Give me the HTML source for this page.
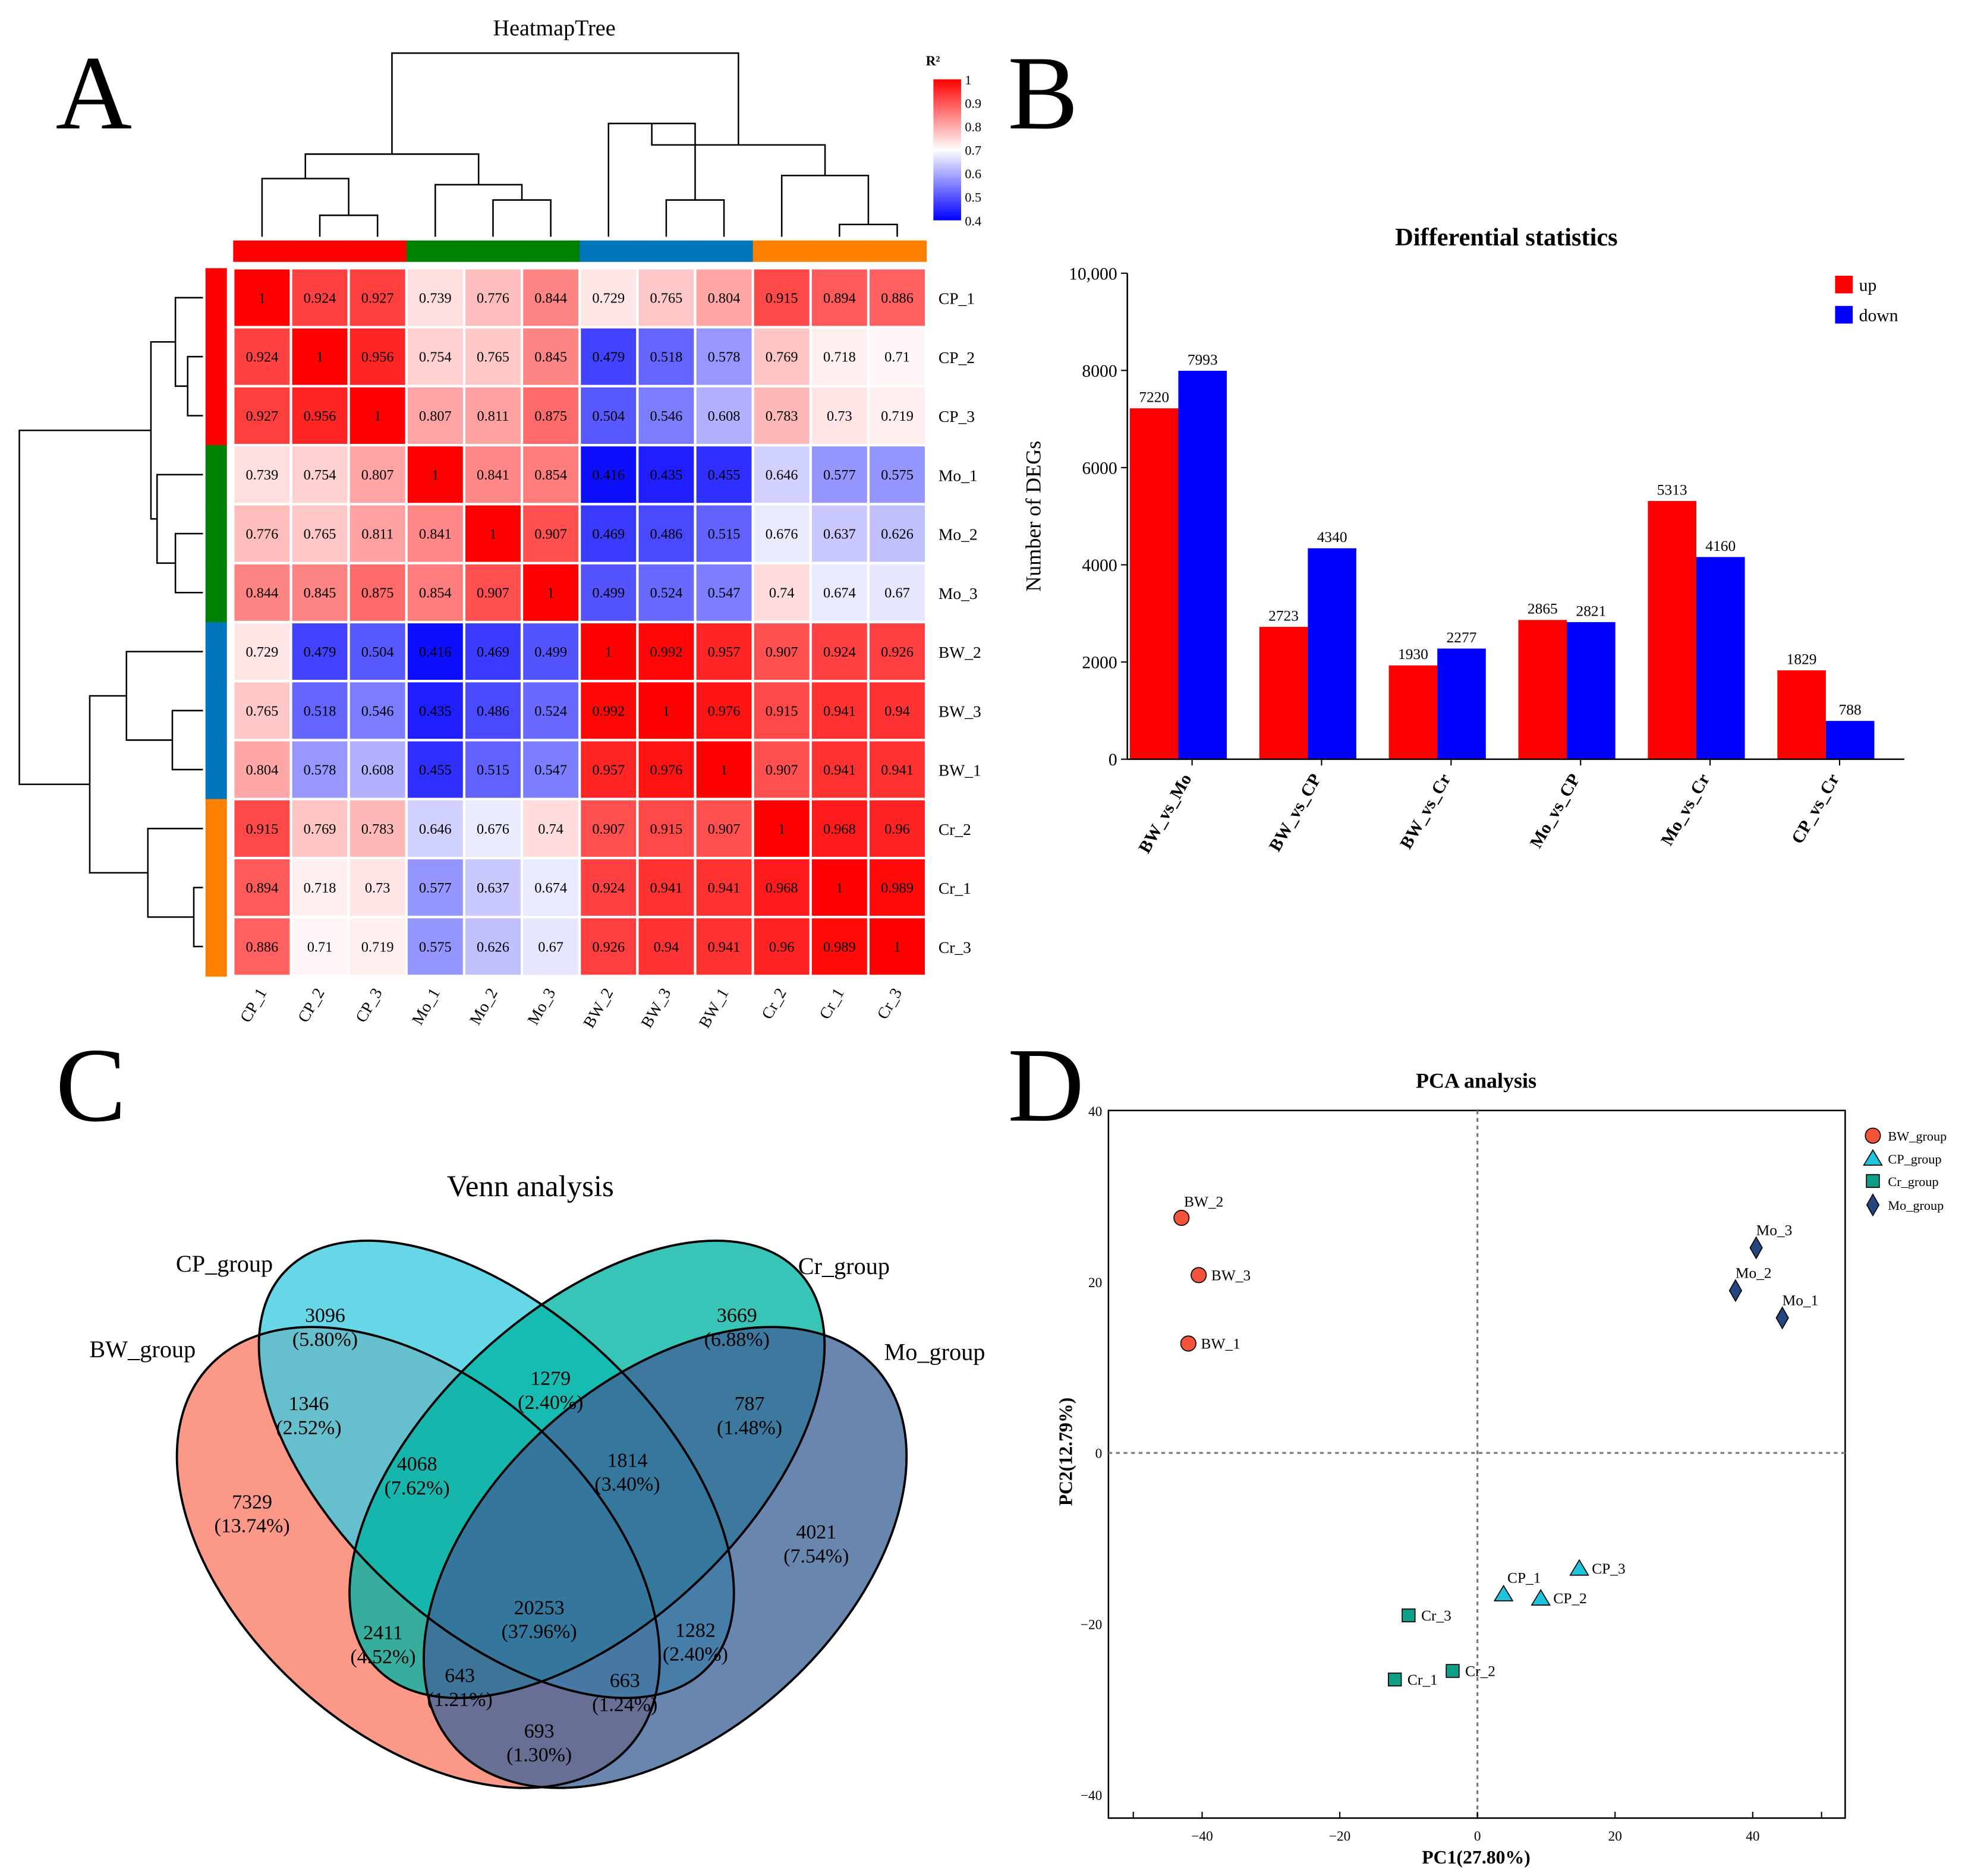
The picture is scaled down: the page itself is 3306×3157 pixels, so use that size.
<!DOCTYPE html>
<html><head><meta charset="utf-8"><style>
html,body{margin:0;padding:0;background:#fff;}
svg{display:block;font-family:"Liberation Serif",serif;}
</style></head><body>
<svg id="fig" width="3306" height="3157" viewBox="0 0 1560 1490" xmlns="http://www.w3.org/2000/svg">
<rect width="1560" height="1490" fill="#fff"/>
<g id="A"></g>
<g id="B"></g>
<g id="C"></g>
<g id="D"></g>
<text x="44" y="102" font-size="84">A</text>
<text x="800" y="102" font-size="84">B</text>
<text x="44" y="890" font-size="84">C</text>
<text x="800" y="890" font-size="84">D</text>
</svg>
<script>
const NS="http://www.w3.org/2000/svg";
function mk(p,tag,attrs,txt){const e=document.createElementNS(NS,tag);for(const k in attrs)e.setAttribute(k,attrs[k]);if(txt!==undefined)e.textContent=txt;p.appendChild(e);return e;}

// ---------- Heatmap data ----------
const hmLabels=["CP_1","CP_2","CP_3","Mo_1","Mo_2","Mo_3","BW_2","BW_3","BW_1","Cr_2","Cr_1","Cr_3"];
const hmGroupColors=["#ff0000","#ff0000","#ff0000","#008000","#008000","#008000","#0077bb","#0077bb","#0077bb","#ff8000","#ff8000","#ff8000"];
const hmValues=[
[1,0.924,0.927,0.739,0.776,0.844,0.729,0.765,0.804,0.915,0.894,0.886],
[0.924,1,0.956,0.754,0.765,0.845,0.479,0.518,0.578,0.769,0.718,0.71],
[0.927,0.956,1,0.807,0.811,0.875,0.504,0.546,0.608,0.783,0.73,0.719],
[0.739,0.754,0.807,1,0.841,0.854,0.416,0.435,0.455,0.646,0.577,0.575],
[0.776,0.765,0.811,0.841,1,0.907,0.469,0.486,0.515,0.676,0.637,0.626],
[0.844,0.845,0.875,0.854,0.907,1,0.499,0.524,0.547,0.74,0.674,0.67],
[0.729,0.479,0.504,0.416,0.469,0.499,1,0.992,0.957,0.907,0.924,0.926],
[0.765,0.518,0.546,0.435,0.486,0.524,0.992,1,0.976,0.915,0.941,0.94],
[0.804,0.578,0.608,0.455,0.515,0.547,0.957,0.976,1,0.907,0.941,0.941],
[0.915,0.769,0.783,0.646,0.676,0.74,0.907,0.915,0.907,1,0.968,0.96],
[0.894,0.718,0.73,0.577,0.637,0.674,0.924,0.941,0.941,0.968,1,0.989],
[0.886,0.71,0.719,0.575,0.626,0.67,0.926,0.94,0.941,0.96,0.989,1]];
const legendTicks=[1,0.9,0.8,0.7,0.6,0.5,0.4];
const topTree=[[[0,[1,2,0.07],0.19],[3,[4,5,0.12],0.17],0.27],[[6,[7,8,0.12],0.37],[9,[10,11,0.04],0.2],0.3],0.6];
const leftTree=[[[0,[1,2,0.05],0.09],[3,[4,5,0.09],0.15],0.17],[[6,[7,8,0.1],0.25],[9,[10,11,0.03],0.18],0.37],0.6];

// ---------- Bar data ----------
const barCats=["BW_vs_Mo","BW_vs_CP","BW_vs_Cr","Mo_vs_CP","Mo_vs_Cr","CP_vs_Cr"];
const upVals=[7220,2723,1930,2865,5313,1829];
const downVals=[7993,4340,2277,2821,4160,788];
const barTicks=[0,2000,4000,6000,8000,10000];
const barTickLabels=["0","2000","4000","6000","8000","10,000"];

// ---------- PCA data ----------
const pcaNames=["BW_2","BW_3","BW_1","Mo_3","Mo_2","Mo_1","CP_1","CP_2","CP_3","Cr_3","Cr_1","Cr_2"];
const pcaGroup=["BW","BW","BW","Mo","Mo","Mo","CP","CP","CP","Cr","Cr","Cr"];
const pcaX=[-43,-40.5,-42,40.5,37.5,44.3,3.8,9.2,14.8,-10,-12,-3.6];
const pcaY=[27.5,20.8,12.8,24,19,15.8,-16.5,-17,-13.5,-19,-26.5,-25.5];
const pcaXTicks=[-40,-20,0,20,40];
const pcaYTicks=[-40,-20,0,20,40];

// ---------- Venn data ----------
const vennCounts=[7329,3096,3669,4021,1346,4068,1279,1814,787,2411,20253,1282,643,663,693];
const vennPcts=["13.74%","5.80%","6.88%","7.54%","2.52%","7.62%","2.40%","3.40%","1.48%","4.52%","37.96%","2.40%","1.21%","1.24%","1.30%"];

// ===== Panel A =====
const A=document.getElementById("A");
const x0=185,cw=45.85,y0=213,ch=46.85;
function hcol(v){let r,g,b;if(v>=0.7){const t=Math.min(1,(v-0.7)/0.3);r=255;g=b=Math.round(255*(1-t));}else{const t=Math.min(1,(0.7-v)/0.3);b=255;r=g=Math.round(255*(1-t));}return `rgb(${r},${g},${b})`;}
let t=mk(A,"text",{x:440,y:28,"font-size":18,"text-anchor":"middle"},"HeatmapTree");

hmValues.forEach((row,i)=>row.forEach((v,j)=>{
 const r=mk(A,"rect",{x:x0+j*cw+1,y:y0+i*ch+1,width:cw-2,height:ch-2,fill:hcol(v)});
 
 const tx=mk(A,"text",{x:x0+j*cw+cw/2,y:y0+i*ch+ch/2+4,"font-size":11.5,"text-anchor":"middle"},String(v));
 
}));
hmLabels.forEach((l,i)=>{
 const a=mk(A,"text",{x:745,y:y0+i*ch+ch/2+5,"font-size":13},l);
 
 const cx=x0+i*cw+cw/2;
 const b=mk(A,"text",{x:cx+4,y:788,"font-size":13,"text-anchor":"end",transform:`rotate(-60 ${cx+4} 788)`},l);
 
 const c=mk(A,"rect",{x:x0+i*cw,y:191,width:cw+0.5,height:17,fill:hmGroupColors[i]});
 
 const d=mk(A,"rect",{x:163,y:y0+i*ch,width:17,height:ch+0.5,fill:hmGroupColors[i]});
 
});
function dendro(tree,pos,hmap,vertical){
 function rec(n){ if(typeof n==="number") return {p:pos(n),h:0};
  const a=rec(n[0]),b=rec(n[1]),h=n[2];
  let d;
  if(vertical){d=`M${a.p},${hmap(a.h)}V${hmap(h)}H${b.p}V${hmap(b.h)}`;}
  else{d=`M${hmap(a.h)},${a.p}H${hmap(h)}V${b.p}H${hmap(b.h)}`;}
  const e=mk(A,"path",{d:d,fill:"none",stroke:"#000","stroke-width":1.2});
  
  return {p:(a.p+b.p)/2,h:h};}
 rec(tree);
}
dendro(topTree,i=>x0+i*cw+cw/2,h=>188-h*243,true);
dendro(leftTree,i=>y0+i*ch+ch/2,h=>161-h*243,false);
const defs=mk(A,"defs",{});
const lg=mk(defs,"linearGradient",{id:"lg",x1:0,y1:0,x2:0,y2:1});
mk(lg,"stop",{offset:"0",  "stop-color":"#ff0000"});
mk(lg,"stop",{offset:"0.5","stop-color":"#ffffff"});
mk(lg,"stop",{offset:"1",  "stop-color":"#0000ff"});
t=mk(A,"rect",{x:741,y:63,width:22,height:112,fill:"url(#lg)"});

t=mk(A,"text",{x:735,y:52,"font-size":11,"font-weight":"bold"},"R²");

legendTicks.forEach(v=>{const y=63+(1-v)/0.6*112;
 t=mk(A,"text",{x:766,y:y+4,"font-size":10.5},String(v));
 });

// ===== Panel B =====
const B=document.getElementById("B");
const bx0=895,bx1=1512,by0=603,by1=217;
const ys=v=>by0-(v/10000)*(by0-by1);
const gw=(bx1-bx0)/barCats.length,bw=38.5;
t=mk(B,"text",{x:1196,y:195,"font-size":20,"font-weight":"bold","text-anchor":"middle"},"Differential statistics");

barCats.forEach((c,i)=>{
 const gx=bx0+i*gw+2;
 let r=mk(B,"rect",{x:gx,y:ys(upVals[i]),width:bw,height:by0-ys(upVals[i]),fill:"#ff0000"});
 
 r=mk(B,"rect",{x:gx+bw,y:ys(downVals[i]),width:bw,height:by0-ys(downVals[i]),fill:"#0000ff"});
 
 t=mk(B,"text",{x:gx+bw/2,y:ys(upVals[i])-5,"font-size":12,"text-anchor":"middle"},String(upVals[i]));
 
 t=mk(B,"text",{x:gx+bw*1.5,y:ys(downVals[i])-5,"font-size":12,"text-anchor":"middle"},String(downVals[i]));
 
 const cx=bx0+i*gw+gw/2;
 t=mk(B,"text",{x:cx,y:618,"font-size":14,"font-weight":"bold","text-anchor":"end",transform:`rotate(-60 ${cx} 618)`},c);
 
 const tk=mk(B,"line",{x1:cx,x2:cx,y1:by0,y2:by0+5,stroke:"#000"});
 
});
t=mk(B,"line",{x1:bx0,x2:bx0,y1:by1,y2:by0,stroke:"#000","stroke-width":1.2});

t=mk(B,"line",{x1:bx0,x2:bx1,y1:by0,y2:by0,stroke:"#000","stroke-width":1.2});

barTicks.forEach((v,i)=>{
 t=mk(B,"line",{x1:bx0-5,x2:bx0,y1:ys(v),y2:ys(v),stroke:"#000"});
 
 t=mk(B,"text",{x:bx0-8,y:ys(v)+5,"font-size":14,"text-anchor":"end"},barTickLabels[i]);
 
});
t=mk(B,"text",{x:826,y:410,"font-size":17,"text-anchor":"middle",transform:"rotate(-90 826 410)"},"Number of DEGs");

t=mk(B,"rect",{x:1457,y:219,width:14,height:14,fill:"#ff0000"});
t=mk(B,"text",{x:1476,y:231,"font-size":14},"up");
t=mk(B,"rect",{x:1457,y:243,width:14,height:14,fill:"#0000ff"});
t=mk(B,"text",{x:1476,y:255,"font-size":14},"down");

// ===== Panel C =====
const C=document.getElementById("C");
t=mk(C,"text",{x:421,y:950,"font-size":24,"text-anchor":"middle"},"Venn analysis");

const ells=[
 {n:"venn-bw",cx:332,cy:1237,rx:225,ry:140,a:42,f:"#fa7b66"},
 {n:"venn-cp",cx:394,cy:1167,rx:230,ry:125,a:43,f:"#3ccbe0"},
 {n:"venn-cr",cx:466,cy:1167,rx:230,ry:125,a:-43,f:"#00b3a3"},
 {n:"venn-mo",cx:528,cy:1237,rx:225,ry:140,a:-42,f:"#3f6497"}];
ells.forEach(e=>{const el=mk(C,"ellipse",{cx:e.cx,cy:e.cy,rx:e.rx,ry:e.ry,fill:e.f,"fill-opacity":0.78,transform:`rotate(${e.a} ${e.cx} ${e.cy})`});
 });
ells.forEach(e=>{const el=mk(C,"ellipse",{cx:e.cx,cy:e.cy,rx:e.rx,ry:e.ry,fill:"none",stroke:"#000","stroke-width":1.8,transform:`rotate(${e.a} ${e.cx} ${e.cy})`});
 });
const vpos=[[200,1198],[258,1050],[585,1050],[648,1222],[245,1120],[331,1168],[437,1100],[498,1165],[595,1120],[304,1302],[428,1282],[552,1300],[365,1336],[496,1340],[428,1380]];
vennCounts.forEach((c,i)=>{const [x,y]=vpos[i];
 t=mk(C,"text",{x:x,y:y,"font-size":16,"text-anchor":"middle"},String(c));
 t=mk(C,"text",{x:x,y:y+19,"font-size":16,"text-anchor":"middle"},"("+vennPcts[i]+")");});
[["CP_group",178,1010],["Cr_group",670,1012],["BW_group",113,1078],["Mo_group",742,1080]].forEach(g=>{
 t=mk(C,"text",{x:g[1],y:g[2],"font-size":19,"text-anchor":"middle"},g[0]);});

// ===== Panel D =====
const D=document.getElementById("D");
const px0=880,px1=1465,py0=882,py1=1444;
const pxs=v=>1173+v*5.465, pys=v=>1154-v*6.79;
t=mk(D,"text",{x:1172,y:864,"font-size":17,"font-weight":"bold","text-anchor":"middle"},"PCA analysis");

t=mk(D,"rect",{x:px0,y:py0,width:px1-px0,height:py1-py0,fill:"none",stroke:"#000","stroke-width":1.2});

t=mk(D,"line",{x1:pxs(0),x2:pxs(0),y1:py0,y2:py1,stroke:"#777","stroke-width":1.5,"stroke-dasharray":"3,3"});

t=mk(D,"line",{x1:px0,x2:px1,y1:pys(0),y2:pys(0),stroke:"#777","stroke-width":1.5,"stroke-dasharray":"3,3"});

pcaXTicks.forEach(v=>{t=mk(D,"text",{x:pxs(v),y:1462,"font-size":11,"text-anchor":"middle"},v<0?"\u2212"+(-v):String(v));
 });
[-50,-40,-20,0,20,40,50].forEach(v=>{t=mk(D,"line",{x1:pxs(v),x2:pxs(v),y1:py1,y2:py1-5,stroke:"#000"});
 });
pcaYTicks.forEach(v=>{t=mk(D,"text",{x:px0-5,y:pys(v)+4,"font-size":11,"text-anchor":"end"},v<0?"\u2212"+(-v):String(v));
 });
t=mk(D,"text",{x:1172,y:1480,"font-size":15,"font-weight":"bold","text-anchor":"middle"},"PC1(27.80%)");

t=mk(D,"text",{x:851,y:1153,"font-size":15,"font-weight":"bold","text-anchor":"middle",transform:"rotate(-90 851 1153)"},"PC2(12.79%)");

const gcol={BW:"#f4543c",CP:"#1ec3dc",Cr:"#0f9e86",Mo:"#26467f"};
function marker(g,x,y,s){
 if(g==="BW") return mk(D,"circle",{cx:x,cy:y,r:s,fill:gcol.BW,stroke:"#000","stroke-width":0.8});
 if(g==="CP") return mk(D,"polygon",{points:`${x},${y-s*1.1} ${x-s*1.2},${y+s*0.9} ${x+s*1.2},${y+s*0.9}`,fill:gcol.CP,stroke:"#000","stroke-width":0.8});
 if(g==="Cr") return mk(D,"rect",{x:x-s*0.85,y:y-s*0.85,width:s*1.7,height:s*1.7,fill:gcol.Cr,stroke:"#000","stroke-width":0.8});
 return mk(D,"polygon",{points:`${x},${y-s*1.4} ${x+s*0.8},${y} ${x},${y+s*1.4} ${x-s*0.8},${y}`,fill:gcol.Mo,stroke:"#000","stroke-width":0.8});
}
pcaNames.forEach((n,i)=>{const x=pxs(pcaX[i]),y=pys(pcaY[i]);
 const m=marker(pcaGroup[i],x,y,6);
 let lx=x+10,ly=y+4;
 if(n==="BW_2"){lx=x+2;ly=y-9;} if(n==="Mo_3"||n==="Mo_2"||n==="Mo_1"){lx=x;ly=y-10;} if(n==="CP_1"){lx=x+3;ly=y-9;}
 t=mk(D,"text",{x:lx,y:ly,"font-size":12},n);});
[["BW","BW_group",902],["CP","CP_group",920],["Cr","Cr_group",938],["Mo","Mo_group",957]].forEach(l=>{
 const m=marker(l[0],1487,l[2],6);
 t=mk(D,"text",{x:1499,y:l[2]+4,"font-size":10.5},l[1]);});
</script>
</body></html>
